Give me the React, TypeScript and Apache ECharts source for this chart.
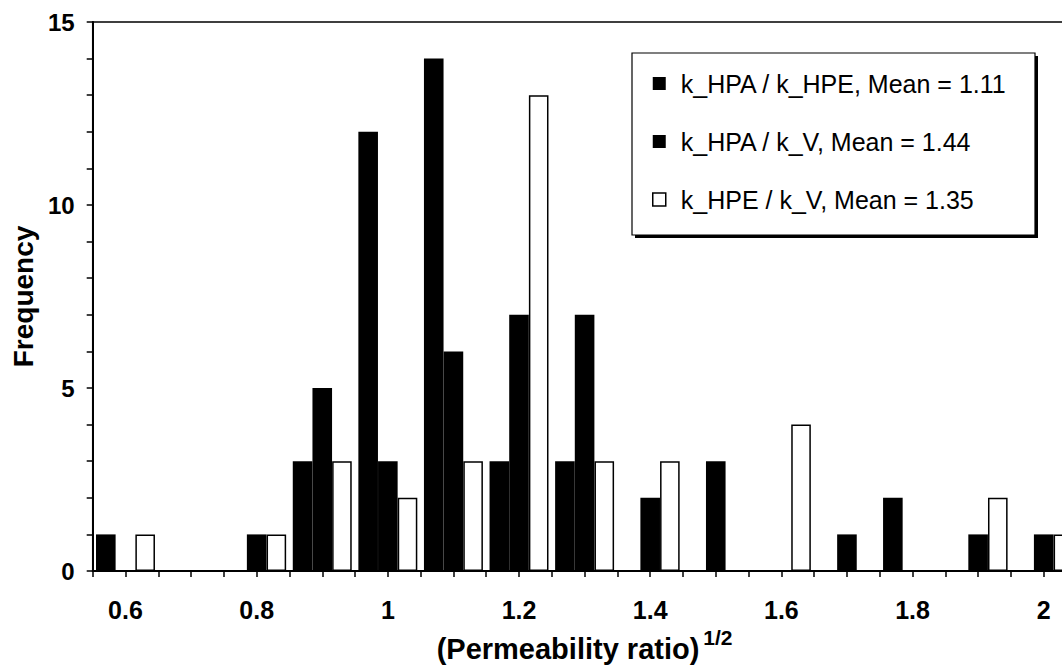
import React, { useEffect, useRef } from "react";
import * as echarts from "echarts";

// Bin centres of (permeability ratio)^1/2 histogram
const BINS = [0.6, 0.7, 0.8, 0.9, 1.0, 1.1, 1.2, 1.3, 1.4, 1.5, 1.6, 1.7, 1.8, 1.9, 2.0];
// Frequencies per bin for each ratio
const HPA_HPE = [1, 0, 0, 3, 12, 14, 3, 3, 0, 0, 0, 0, 2, 0, 0];
const HPA_V = [0, 0, 1, 5, 3, 6, 7, 7, 2, 3, 0, 1, 0, 1, 1];
const HPE_V = [1, 0, 1, 3, 2, 3, 13, 3, 3, 0, 4, 0, 0, 2, 1];
// x shift of each series within a bin (data units)
const SHIFTS = [-0.03, 0, 0.03];
const SERIES_NAMES = [
  "k_HPA / k_HPE, Mean = 1.11",
  "k_HPA / k_V, Mean = 1.44",
  "k_HPE / k_V, Mean = 1.35",
];
const X_TICK_LABELS = ["0.6", "0.8", "1", "1.2", "1.4", "1.6", "1.8", "2"];
const Y_TICK_LABELS = ["0", "5", "10", "15"];

const FONT = "'Liberation Sans', Arial, Helvetica, sans-serif";

export default function App() {
  const ref = useRef<HTMLDivElement>(null);
  useEffect(() => {
    document.body.style.margin = "0";
    const chart = echarts.init(ref.current!, null, { renderer: "svg" });
    const mk = (counts: number[], shift: number) =>
      BINS.map((b, i) => [Math.round((b + shift) * 1000) / 1000, counts[i]]).filter((d) => d[1] > 0);
    const fmtX = (v: number) => {
      const s = String(Math.round(v * 100) / 100);
      return X_TICK_LABELS.includes(s) ? s : "";
    };
    const fmtY = (v: number) => {
      const s = String(Math.round(v));
      return Y_TICK_LABELS.includes(s) && Math.abs(v - Math.round(v)) < 1e-6 ? s : "";
    };
    const allCounts = [HPA_HPE, HPA_V, HPE_V];
    const styles = [
      { color: "#000" },
      { color: "#000" },
      { color: "#fff", borderColor: "#000", borderWidth: 1.5 },
    ];
    chart.setOption({
      animation: false,
      backgroundColor: "#fff",
      textStyle: { fontFamily: FONT, color: "#000" },
      grid: {
        left: 92.7,
        top: 22,
        right: -14.5,
        bottom: 100,
        show: true,
        borderColor: "#000",
        borderWidth: 1.5,
        containLabel: false,
        outerBoundsMode: "none",
      },
      graphic: [
        { type: "rect", z: 1, shape: { x: 635, y: 56, width: 403, height: 182 }, style: { fill: "#000" } },
        {
          type: "rect",
          z: 2,
          shape: { x: 632, y: 53, width: 403, height: 182 },
          style: { fill: "#fff", stroke: "#000", lineWidth: 1.2 },
        },
      ],
      legend: {
        orient: "vertical",
        left: 632,
        top: 53,
        z: 10,
        padding: [18, 25, 26, 20],
        itemGap: 33,
        itemWidth: 13,
        itemHeight: 13,
        selectedMode: false,
        textStyle: { fontSize: 25, fontFamily: FONT, color: "#000", lineHeight: 24, padding: [0, 0, 0, 10] },
        data: SERIES_NAMES.map((n, i) => ({ name: n, icon: "rect", itemStyle: styles[i] })),
      },
      xAxis: {
        type: "value",
        min: 0.55,
        max: 2.05,
        interval: 0.05,
        axisLine: { show: true, onZero: false, lineStyle: { color: "#000", width: 2 } },
        axisTick: { show: true, length: 6, lineStyle: { color: "#000", width: 1.5 } },
        splitLine: { show: false },
        axisLabel: {
          formatter: fmtX,
          margin: 26,
          fontSize: 25,
          fontWeight: "bold",
          color: "#000",
          fontFamily: FONT,
          showMinLabel: true,
          showMaxLabel: true,
        },
        name: "{a|(Permeability ratio)}{b|1/2}",
        nameLocation: "middle",
        nameGap: 44,
        nameTextStyle: {
          rich: {
            a: { fontSize: 29, fontWeight: "bold", fontFamily: FONT, color: "#000", lineHeight: 44 },
            b: {
              fontSize: 21,
              fontWeight: "bold",
              fontFamily: FONT,
              color: "#000",
              lineHeight: 21,
              verticalAlign: "top",
              padding: [0, 0, 0, 4],
            },
          },
        },
      },
      yAxis: {
        type: "value",
        min: 0,
        max: 15,
        interval: 1,
        axisLine: { show: true, lineStyle: { color: "#000", width: 2 } },
        axisTick: { show: true, length: 6, lineStyle: { color: "#000", width: 1.5 } },
        splitLine: { show: false },
        axisLabel: {
          formatter: fmtY,
          margin: 18,
          fontSize: 24,
          fontWeight: "bold",
          color: "#000",
          fontFamily: FONT,
        },
        name: "Frequency",
        nameLocation: "middle",
        nameGap: 52,
        nameTextStyle: { fontSize: 28, fontWeight: "bold", fontFamily: FONT, color: "#000" },
      },
      series: SERIES_NAMES.map((n, i) => ({
        type: "bar",
        name: n,
        data: mk(allCounts[i], SHIFTS[i]),
        barWidth: 19.6,
        barGap: "-100%",
        silent: true,
        itemStyle: styles[i],
      })),
    });
    return () => chart.dispose();
  }, []);
  return (
    <div
      ref={ref}
      style={{ position: "fixed", left: 0, top: 0, width: 1062, height: 671, background: "#fff" }}
    />
  );
}
